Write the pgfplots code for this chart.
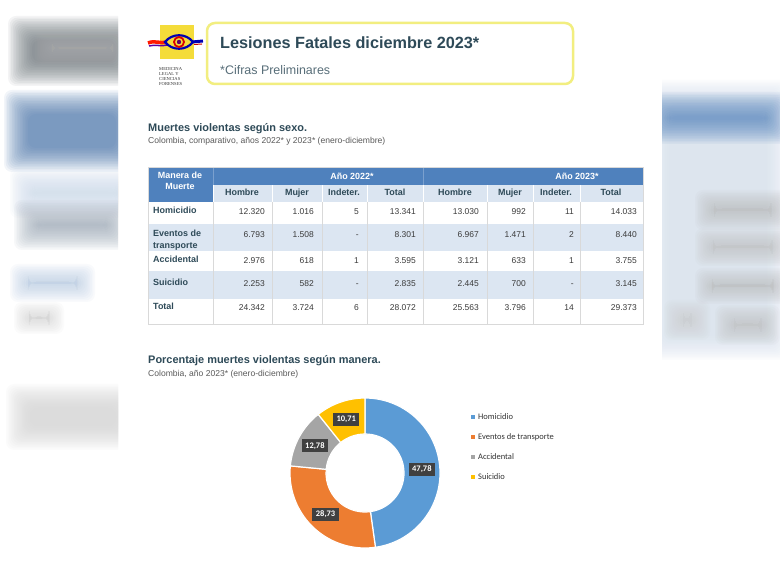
\documentclass[border=0pt]{standalone}
\usepackage{fontspec}
\setmainfont{Liberation Sans}
\newfontfamily\calibri{Carlito}
\newfontfamily\logoserif{Liberation Serif}
\usepackage{pgfplots}
\pgfplotsset{compat=1.18}
\usepackage{pgfplotstable}

\definecolor{hdr}{HTML}{4F81BD}
\definecolor{hdrlight}{HTML}{DBE5F1}
\definecolor{rowblue}{HTML}{DCE6F2}
\definecolor{ink}{HTML}{2E4A58}
\definecolor{num}{HTML}{3A3A3A}
\definecolor{sub}{HTML}{5A5A5A}
\definecolor{cHom}{HTML}{5B9BD5}
\definecolor{cTra}{HTML}{ED7D31}
\definecolor{cAcc}{HTML}{A5A5A5}
\definecolor{cSui}{HTML}{FFC000}
\definecolor{lbl}{HTML}{404040}
\definecolor{boxyellow}{HTML}{F2EE80}
\definecolor{logoyellow}{HTML}{F4DC3A}

\newcommand\fs[1]{\fontsize{#1}{#1}\selectfont}
% soft blurred block for the blurred page edges
\newcommand\soft[5]{%
  \foreach \k in {0,...,15}{%
    \pgfmathsetmacro\ins{min(1.6*\k,(#4-#2)/2-1,(#3-#1)/2-1)}%
    \fill[#5, fill opacity=0.07, rounded corners=8bp] ({#1+\ins},{#2+\ins}) rectangle ({#3-\ins},{#4-\ins});
  }}

% muertes violentas segun sexo (y = baseline of the row)
\pgfplotstableread{
manera     y   h22    m22   i22 t22    h23    m23   i23 t23
Homicidio  214 12.320 1.016 5   13.341 13.030 992   11  14.033
Transporte 237 6.793  1.508 -   8.301  6.967  1.471 2   8.440
Accidental 263 2.976  618   1   3.595  3.121  633   1   3.755
Suicidio   286 2.253  582   -   2.835  2.445  700   -   3.145
Total      310 24.342 3.724 6   28.072 25.563 3.796 14  29.373
}\sexo

% porcentaje segun manera, 2023
\pgfplotstableread{
manera     pct
Homicidio  47.78
Transporte 28.73
Accidental 12.78
Suicidio   10.71
}\donut

\pgfplotstablegetelem{0}{pct}\of\donut \pgfmathsetmacro\pA{\pgfplotsretval}
\pgfplotstablegetelem{1}{pct}\of\donut \pgfmathsetmacro\pB{\pgfplotsretval}
\pgfplotstablegetelem{2}{pct}\of\donut \pgfmathsetmacro\pC{\pgfplotsretval}
\pgfplotstablegetelem{3}{pct}\of\donut \pgfmathsetmacro\pD{\pgfplotsretval}
\pgfmathsetmacro\aA{90}
\pgfmathsetmacro\aB{\aA-3.6*\pA}
\pgfmathsetmacro\aC{\aB-3.6*\pB}
\pgfmathsetmacro\aD{\aC-3.6*\pC}
\pgfmathsetmacro\aE{\aD-3.6*\pD}
\newcommand\ringpart[3]{%
  \fill[#3, draw=white, line width=1.2bp]
    ([shift={(#1:75bp)}]axis cs:365,473) arc[start angle=#1, end angle=#2, radius=75bp]
    -- ([shift={(#2:39bp)}]axis cs:365,473) arc[start angle=#2, end angle=#1, radius=39bp] -- cycle;}
\newcommand\plabel[3]{%
  \node[fill=lbl, text=white, font=\calibri\bfseries\fs{8.5}, inner xsep=3.5bp, inner ysep=3bp]
    at ([shift={({(#1+#2)/2}:57bp)}]axis cs:365,473)
    {\pgfmathprintnumber[fixed,fixed zerofill,precision=2,use comma,assume math mode=true]{#3}};}

\begin{document}
\begin{tikzpicture}
\fill[white] (0,0) rectangle (780bp,565bp);
\begin{scope}[x=1bp, y=-1bp, yshift=565bp]
  % blurred neighbours, left
  \begin{scope}
    \clip (0,0) rectangle (118,565);
    \soft{8}{16}{140}{86}{gray!75!cyan!60!black}
    \soft{35}{30}{130}{66}{gray!60}
    \soft{4}{90}{140}{172}{hdr!90!black}
    \soft{10}{168}{140}{218}{hdr!30}
    \soft{14}{200}{130}{250}{hdr!35!gray!70}
    \soft{10}{264}{95}{302}{hdr!45}
    \soft{14}{302}{64}{334}{gray!40}
    \soft{6}{384}{140}{450}{gray!35}
  \end{scope}
  % blurred neighbours, right
  \begin{scope}
    \clip (662,0) rectangle (780,565);
    \soft{645}{80}{790}{360}{hdr!25}
    \soft{645}{92}{790}{144}{hdr!95}
    \soft{695}{190}{790}{230}{gray!55}
    \soft{695}{228}{790}{266}{gray!50}
    \soft{695}{268}{790}{304}{gray!55}
    \soft{664}{300}{710}{340}{gray!40}
    \soft{715}{305}{780}{345}{gray!50}
  \end{scope}

  % logo
  \fill[logoyellow] (160,25) rectangle (194,59);
  \draw[red!80!orange, line width=3.5bp] (148,43) .. controls (155,40) and (160,44) .. (167,42);
  \draw[violet!70!blue, line width=1.5bp] (149,46) .. controls (156,44) and (161,47) .. (167,45);
  \draw[blue!70!black, line width=2.2bp] (165,42) .. controls (172,33) and (186,33) .. (193,42) .. controls (186,51) and (172,51) .. cycle;
  \draw[red!85!black, line width=1.8bp] (179,42) circle[radius=5];
  \fill[violet!80!black] (179,42) circle[radius=2.2];
  \draw[blue!70!black, line width=3bp] (192,42) -- (203,41);
  \draw[red!80!black, line width=1bp] (194,44.5) -- (202,44);
  \begin{scope}[font=\logoserif\fs{4.6}, text=black!80, inner sep=0pt]
    \node[anchor=base west] at (159,71) {MEDICINA};
    \node[anchor=base west] at (159,76) {LEGAL Y};
    \node[anchor=base west] at (159,81) {CIENCIAS};
    \node[anchor=base west] at (159,86) {FORENSES};
  \end{scope}

  % title box
  \draw[boxyellow, line width=2.5bp, rounded corners=8bp] (207,23) rectangle (573,84);
  \node[anchor=base west, inner sep=0pt, text=ink, font=\bfseries\fs{16.3}] at (220,49) {Lesiones Fatales diciembre 2023*};
  \node[anchor=base west, inner sep=0pt, text=ink!80, font=\fs{12.5}] at (220,75) {*Cifras Preliminares};

  % section titles
  \node[anchor=base west, inner sep=0pt, text=ink, font=\bfseries\fs{11}] at (148,132) {Muertes violentas según sexo.};
  \node[anchor=base west, inner sep=0pt, text=sub, font=\fs{8.6}] at (148,144) {Colombia, comparativo, años 2022* y 2023* (enero-diciembre)};
  \node[anchor=base west, inner sep=0pt, text=ink, font=\bfseries\fs{11}] at (148,364) {Porcentaje muertes violentas según manera.};
  \node[anchor=base west, inner sep=0pt, text=sub, font=\fs{8.6}] at (148,377) {Colombia, año 2023* (enero-diciembre)};

  % table frame
  \fill[hdr] (148,167) rectangle (643,185);
  \fill[hdr] (148,185) rectangle (213,202);
  \fill[hdrlight] (213,185) rectangle (643,202);
  \fill[rowblue] (148,224) rectangle (643,251);
  \fill[rowblue] (148,271) rectangle (643,299);
  \foreach \xx in {213,272,322,367,423,487,533,580}{
    \draw[white, line width=0.8bp] (\xx,185) -- (\xx,202);
    \draw[gray!30, line width=0.7bp] (\xx,202) -- (\xx,324);
  }
  \draw[hdr!75!white, line width=0.6bp] (213,167) -- (213,185) (423,167) -- (423,185);
  \draw[gray!30, line width=0.7bp] (148,167) rectangle (643,324);
  \begin{scope}[inner sep=0pt, font=\bfseries\fs{9}]
    \node[text=white, align=center, font=\bfseries\fontsize{9}{11}\selectfont] at (180,181) {Manera de\\Muerte};
    \node[text=white, anchor=base] at (352,180) {Año 2022*};
    \node[text=white, anchor=base] at (577,180) {Año 2023*};
    \foreach \xx/\tt in {242/Hombre,297/Mujer,344/Indeter.,395/Total,455/Hombre,510/Mujer,556/Indeter.,611/Total}
      \node[text=ink, anchor=base] at (\xx,196) {\tt};
    \node[text=ink, anchor=base west] at (153,214) {Homicidio};
    \node[text=ink, anchor=base west] at (153,237) {Eventos de};
    \node[text=ink, anchor=base west] at (153,249) {transporte};
    \node[text=ink, anchor=base west] at (153,263) {Accidental};
    \node[text=ink, anchor=base west] at (153,286) {Suicidio};
    \node[text=ink, anchor=base west] at (153,310) {Total};
  \end{scope}

  % legend of the donut
  \begin{scope}[font=\calibri\fs{8.5}, text=black!80, inner sep=0pt]
    \foreach \yy/\cc/\tt in {417/cHom/Homicidio, 437/cTra/Eventos de transporte, 457/cAcc/Accidental, 477/cSui/Suicidio}{
      \fill[\cc] (471,\yy-2) rectangle (475,\yy+2);
      \node[anchor=west] at (478,\yy) {\tt};
    }
  \end{scope}
\end{scope}

\begin{axis}[
    at={(0,0)}, anchor=south west,
    width=780bp, height=565bp, scale only axis,
    xmin=0, xmax=780, ymin=0, ymax=565,
    y dir=reverse, hide axis, clip=false,
    cell/.style={draw=none, no markers, nodes near coords,
      point meta=explicit symbolic,
      nodes near coords align={anchor=base east},
      every node near coord/.append style={font=\fs{8.5}, text=num, inner sep=0pt}},
]
\addplot[cell] table[x expr=265, y=y, meta=h22] {\sexo};
\addplot[cell] table[x expr=314, y=y, meta=m22] {\sexo};
\addplot[cell] table[x expr=359, y=y, meta=i22] {\sexo};
\addplot[cell] table[x expr=416, y=y, meta=t22] {\sexo};
\addplot[cell] table[x expr=479, y=y, meta=h23] {\sexo};
\addplot[cell] table[x expr=526, y=y, meta=m23] {\sexo};
\addplot[cell] table[x expr=574, y=y, meta=i23] {\sexo};
\addplot[cell] table[x expr=637, y=y, meta=t23] {\sexo};

\ringpart{\aA}{\aB}{cHom}
\ringpart{\aB}{\aC}{cTra}
\ringpart{\aC}{\aD}{cAcc}
\ringpart{\aD}{\aE}{cSui}
\plabel{\aA}{\aB}{\pA}
\plabel{\aB}{\aC}{\pB}
\plabel{\aC}{\aD}{\pC}
\plabel{\aD}{\aE}{\pD}
\end{axis}
\pgfresetboundingbox
\useasboundingbox (0,0) rectangle (780bp,565bp);
\end{tikzpicture}
\end{document}
